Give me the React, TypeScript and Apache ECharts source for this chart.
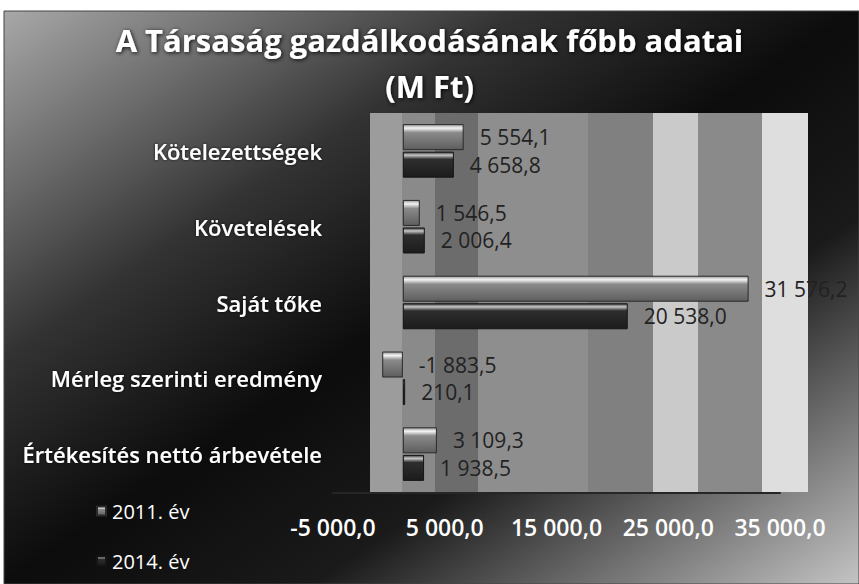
import React, { useEffect, useRef } from "react";
import * as echarts from "echarts";

const categories = [
  "Kötelezettségek",
  "Követelések",
  "Saját tőke",
  "Mérleg szerinti eredmény",
  "Értékesítés nettó árbevétele",
];
const values2011 = [5554.1, 1546.5, 31576.2, -1883.5, 3109.3];
const values2014 = [4658.8, 2006.4, 20538.0, 210.1, 1938.5];
const seriesNames = ["2011. év", "2014. év"];
const tickMin = -5000;
const tickMax = 35000;
const tickStep = 10000;

function fmt(v: number): string {
  const sign = v < 0 ? "-" : "";
  const [i, d] = Math.abs(v).toFixed(1).split(".");
  return sign + i.replace(/\B(?=(\d{3})+(?!\d))/g, " ") + "," + d;
}

const FONT = "'Open Sans', 'Noto Sans', sans-serif";

export default function App() {
  const ref = useRef<HTMLDivElement>(null);
  useEffect(() => {
    if (!ref.current) return;
    const chart = echarts.init(ref.current, undefined, { renderer: "svg" });
    const bar2011 = new echarts.graphic.LinearGradient(0, 0, 0, 1, [
      { offset: 0, color: "#9a9a9a" },
      { offset: 0.14, color: "#f4f4f4" },
      { offset: 0.32, color: "#8a8a8a" },
      { offset: 1, color: "#5e5e5e" },
    ]);
    const bar2014 = new echarts.graphic.LinearGradient(0, 0, 0, 1, [
      { offset: 0, color: "#3a3a3a" },
      { offset: 0.12, color: "#c8c8c8" },
      { offset: 0.28, color: "#2e2e2e" },
      { offset: 1, color: "#1c1c1c" },
    ]);
    const stripes: [number, number, string][] = [
      [370, 402, "#9c9c9c"],
      [402, 435, "#8a8a8a"],
      [435, 478, "#6c6c6c"],
      [478, 588, "#8e8e8e"],
      [588, 653, "#808080"],
      [653, 698, "#cacaca"],
      [698, 762, "#8a8a8a"],
      [762, 808, "#dedede"],
    ];
    const dataLabel = {
      show: true,
      position: "right",
      distance: 16,
      color: "#222222",
      fontFamily: FONT,
      fontSize: 21,
      lineHeight: 25,
      formatter: (p: any) => fmt(p.value),
    };
    const option: any = {
      animation: false,
      backgroundColor: "#ffffff",
      graphic: [
        {
          type: "rect",
          z: -10,
          shape: { x: 4, y: 11, width: 855, height: 573 },
          style: {
            fill: new echarts.graphic.LinearGradient(0, 0, 1, 1, [
              { offset: 0, color: "#a8a8a8" },
              { offset: 0.3, color: "#333333" },
              { offset: 0.5, color: "#0c0c0c" },
              { offset: 0.68, color: "#1a1a1a" },
              { offset: 1, color: "#c4c4c4" },
            ]),
            stroke: "#444",
            lineWidth: 1,
          },
        },
        ...stripes.map(([x0, x1, c]) => ({
          type: "rect",
          z: -5,
          shape: { x: x0, y: 113, width: x1 - x0, height: 379 },
          style: { fill: c },
        })),
      ],
      title: {
        text: "A Társaság gazdálkodásának főbb adatai\n(M Ft)",
        left: "center",
        top: 12,
        textStyle: {
          color: "#ffffff",
          fontFamily: FONT,
          fontWeight: "bold",
          fontSize: 31,
          lineHeight: 46,
          textShadowColor: "rgba(0,0,0,0.9)",
          textShadowBlur: 4,
          textShadowOffsetX: 1,
          textShadowOffsetY: 1,
        },
      },
      legend: {
        orient: "vertical",
        left: 91,
        top: 496,
        itemWidth: 9,
        itemHeight: 9,
        itemGap: 30,
        icon: "rect",
        data: seriesNames,
        textStyle: {
          color: "#ffffff",
          fontFamily: FONT,
          fontSize: 20,
          padding: [0, 0, 0, 1],
        },
      },
      grid: [
        { left: 370, right: 51, top: 113, bottom: 92 },
        { left: 333, right: 79, top: 492, height: 1 },
      ],
      xAxis: [
        {
          gridIndex: 0,
          type: "value",
          min: -3000,
          max: 37000,
          show: false,
          splitLine: { show: false },
        },
        {
          gridIndex: 1,
          type: "value",
          min: tickMin,
          max: tickMax,
          interval: tickStep,
          position: "bottom",
          axisLine: { show: true, onZero: false, lineStyle: { color: "#262626", width: 2 } },
          axisTick: { show: false },
          splitLine: { show: false },
          axisLabel: {
            margin: 22,
            color: "#ffffff",
            fontFamily: FONT,
            fontWeight: 600,
            fontSize: 23,
            formatter: (v: number) => fmt(v),
          },
        },
      ],
      yAxis: [
        {
          gridIndex: 0,
          type: "category",
          inverse: true,
          data: categories,
          axisLine: { show: false },
          axisTick: { show: false },
          axisLabel: {
            margin: 48,
            color: "#ffffff",
            fontFamily: FONT,
            fontWeight: 600,
            fontSize: 22,
            textShadowColor: "rgba(0,0,0,0.8)",
            textShadowBlur: 3,
          },
        },
        { gridIndex: 1, type: "value", show: false },
      ],
      series: [
        {
          name: seriesNames[0],
          type: "bar",
          xAxisIndex: 0,
          yAxisIndex: 0,
          data: values2011,
          barWidth: 26,
          barGap: "6%",
          itemStyle: { color: bar2011, borderColor: "#2a2a2a", borderWidth: 1 },
          label: dataLabel,
        },
        {
          name: seriesNames[1],
          type: "bar",
          xAxisIndex: 0,
          yAxisIndex: 0,
          data: values2014,
          barWidth: 26,
          barGap: "6%",
          itemStyle: { color: bar2014, borderColor: "#151515", borderWidth: 1 },
          label: dataLabel,
        },
      ],
    };
    chart.setOption(option);
    return () => chart.dispose();
  }, []);
  return (
    <div
      ref={ref}
      style={{ position: "fixed", left: 0, top: 0, width: 859, height: 584 }}
    />
  );
}
